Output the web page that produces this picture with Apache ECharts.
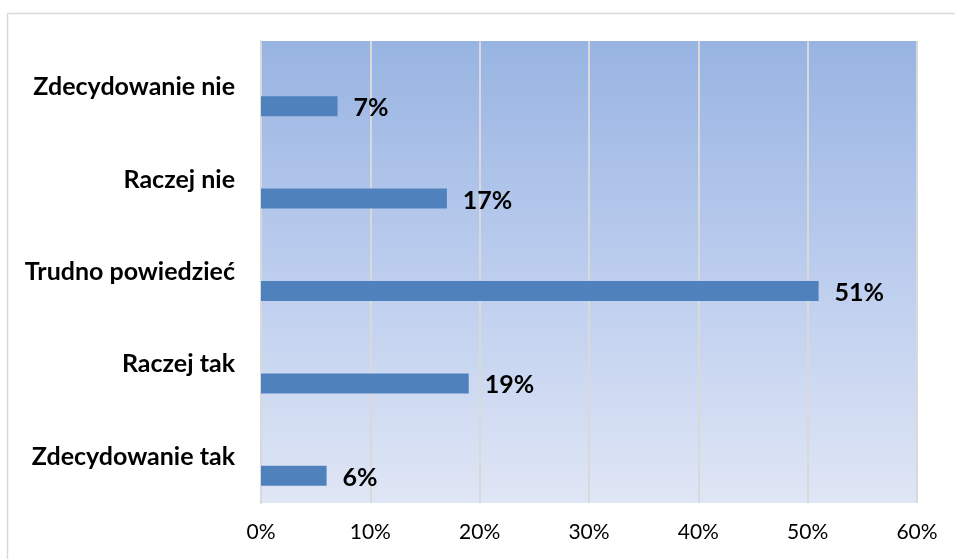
<!DOCTYPE html>
<html><head><meta charset="utf-8">
<script src="https://cdn.jsdelivr.net/npm/echarts@6/dist/echarts.min.js"></script>
<style>html,body{margin:0;padding:0;background:#fff}#c{width:955px;height:559px}</style>
</head><body><div id="c"></div>
<script>
const categories = ['Zdecydowanie nie', 'Raczej nie', 'Trudno powiedzieć', 'Raczej tak', 'Zdecydowanie tak'];
const values = [7, 17, 51, 19, 6];
const spacer = [0, 0, 0, 0, 0];
const xTicks = [0, 10, 20, 30, 40, 50, 60];

const chart = echarts.init(document.getElementById('c'));
chart.setOption({
  animation: false,
  graphic: [{ type: 'rect', shape: { x: 7.5, y: 13.5, width: 960, height: 560 }, style: { fill: 'none', stroke: '#d9d9d9', lineWidth: 1.5 }, silent: true }],
  grid: { left: 261, right: 38, top: 41, bottom: 56, show: true, borderWidth: 0,
    backgroundColor: new echarts.graphic.LinearGradient(0, 0, 0, 1, [
      { offset: 0, color: '#98b4e2' }, { offset: 0.5, color: '#bccdee' }, { offset: 1, color: '#dfe6f5' }]) },
  xAxis: { type: 'value', min: xTicks[0], max: xTicks[xTicks.length - 1], interval: 10,
    axisLine: { show: false }, axisTick: { show: false },
    splitLine: { show: true, lineStyle: { color: '#d9d9d9', width: 2 } },
    axisLabel: { formatter: '{value}%', fontFamily: 'Lato', fontSize: 21, color: '#000', margin: 19 } },
  yAxis: { type: 'category', data: categories, inverse: true,
    axisLine: { show: true, lineStyle: { color: '#d9d9d9', width: 2 } }, axisTick: { show: false },
    axisLabel: { fontFamily: 'Lato', fontWeight: 'bold', fontSize: 25, color: '#000', margin: 26 } },
  series: [
    { type: 'bar', data: spacer, barWidth: 20, barGap: '90%', itemStyle: { color: 'rgba(0,0,0,0)' }, silent: true },
    { type: 'bar', data: values, barWidth: 20, barGap: '90%', itemStyle: { color: '#4f81bd' },
      label: { show: true, position: 'right', distance: 16, offset: [0, 2], formatter: '{c}%', fontFamily: 'Lato', fontWeight: 'bold', fontSize: 25, color: '#000' } }
  ]
});
</script></body></html>
